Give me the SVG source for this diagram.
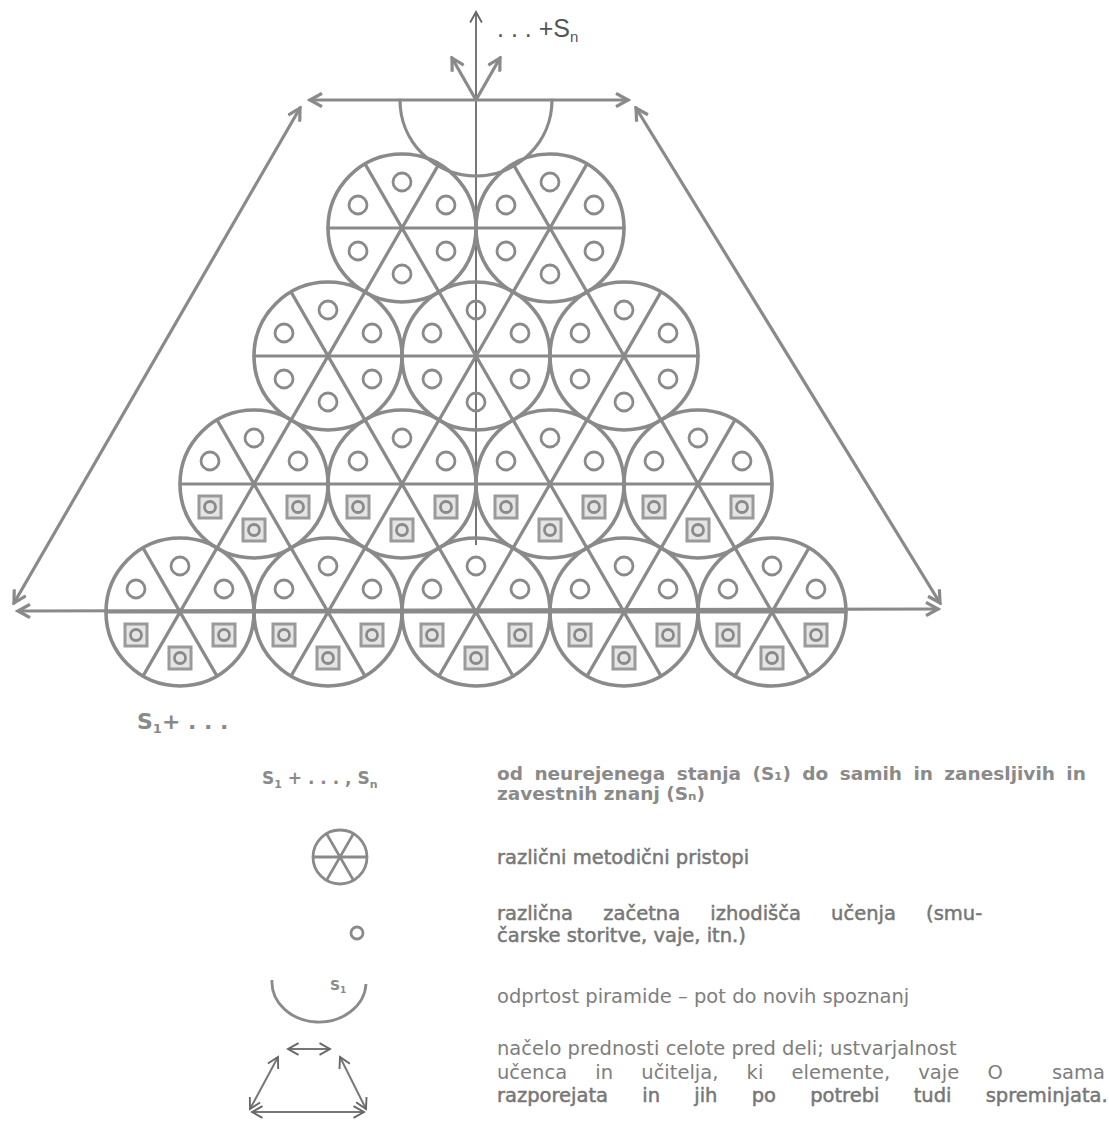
<svg xmlns="http://www.w3.org/2000/svg" width="1109" height="1124" viewBox="0 0 1109 1124">
<style>
  .ln{stroke:#8a8a8a;stroke-width:3.2;fill:none;stroke-linecap:round}
  .thin{stroke:#777;stroke-width:2;fill:none}
  .big{stroke:#8a8a8a;stroke-width:3.6;fill:none}
  .sm{stroke:#8a8a8a;stroke-width:2.8;fill:none}
  .sq{stroke:#9a9a9a;stroke-width:3;fill:#e4e4e4}
  .t{font-family:"DejaVu Sans","Liberation Sans",sans-serif;font-size:19.5px;fill:#7e7e7e}
  .td{font-family:"DejaVu Sans","Liberation Sans",sans-serif;font-size:19.5px;fill:#777;stroke:#777;stroke-width:0.5}
  .tb{font-family:"DejaVu Sans","Liberation Sans",sans-serif;font-size:18.5px;fill:#8a8a8a;font-weight:bold}
</style>
<defs>
  <marker id="ah" viewBox="0 0 12 12" refX="10" refY="6" markerWidth="5" markerHeight="5" orient="auto-start-reverse" markerUnits="strokeWidth">
    <path d="M1,1 L10,6 L1,11" fill="none" stroke="#8a8a8a" stroke-width="2.4"/>
  </marker>
  <marker id="ahs" viewBox="0 0 12 12" refX="10" refY="6" markerWidth="7" markerHeight="7" orient="auto-start-reverse" markerUnits="strokeWidth">
    <path d="M1,1 L10,6 L1,11" fill="none" stroke="#666" stroke-width="1.6"/>
  </marker>
  <g id="frame">
    <circle r="74" class="big"/>
    <line class="ln" x1="-74" y1="0" x2="74" y2="0"/>
    <line class="ln" x1="-37" y1="-64.1" x2="37" y2="64.1"/>
    <line class="ln" x1="37" y1="-64.1" x2="-37" y2="64.1"/>
    <circle class="sm" cx="0" cy="-46" r="9"/>
    <circle class="sm" cx="-44" cy="-23" r="9"/>
    <circle class="sm" cx="44" cy="-23" r="9"/>
  </g>
  <g id="cellA">
    <use href="#frame"/>
    <circle class="sm" cx="-44" cy="23" r="9"/>
    <circle class="sm" cx="44" cy="23" r="9"/>
    <circle class="sm" cx="0" cy="46" r="9"/>
  </g>
  <g id="cellB">
    <use href="#frame"/>
    <rect class="sq" x="-55" y="12" width="22" height="22"/>
    <circle class="sm" cx="-44" cy="23" r="5.5"/>
    <rect class="sq" x="33" y="12" width="22" height="22"/>
    <circle class="sm" cx="44" cy="23" r="5.5"/>
    <rect class="sq" x="-11" y="35" width="22" height="22"/>
    <circle class="sm" cx="0" cy="46" r="5.5"/>
  </g>
</defs>
<rect width="1109" height="1124" fill="#fff"/>

<g id="connectors">
  <line class="thin" x1="476" y1="545" x2="476" y2="12" marker-end="url(#ahs)"/>
  <line class="ln" x1="310" y1="100" x2="628" y2="100" marker-start="url(#ah)" marker-end="url(#ah)"/>
  <line class="ln" x1="300" y1="108" x2="14" y2="603" marker-start="url(#ah)" marker-end="url(#ah)"/>
  <line class="ln" x1="636" y1="108" x2="940" y2="603" marker-start="url(#ah)" marker-end="url(#ah)"/>
  <line class="ln" x1="18" y1="611" x2="938" y2="609" marker-start="url(#ah)" marker-end="url(#ah)"/>
  <line class="ln" x1="476" y1="100" x2="452" y2="58" marker-end="url(#ah)"/>
  <line class="ln" x1="476" y1="100" x2="500" y2="58" marker-end="url(#ah)"/>
</g>

<g id="opening">
  <path class="ln" d="M400,100 A76,76 0 0 0 552,100"/>
  <text x="497" y="37" font-family="'Liberation Sans','DejaVu Sans',sans-serif" font-size="25" fill="#555">. . . +S<tspan font-size="15" dy="5">n</tspan></text>
</g>

<g id="row1">
  <use href="#cellA" x="402" y="228"/>
  <use href="#cellA" x="550" y="228"/>
</g>
<g id="row2">
  <use href="#cellA" x="328" y="356"/>
  <use href="#cellA" x="476" y="356"/>
  <use href="#cellA" x="624" y="356"/>
</g>
<g id="row3">
  <use href="#cellB" x="254" y="484"/>
  <use href="#cellB" x="402" y="484"/>
  <use href="#cellB" x="550" y="484"/>
  <use href="#cellB" x="698" y="484"/>
</g>
<g id="row4">
  <use href="#cellB" x="180" y="612"/>
  <use href="#cellB" x="328" y="612"/>
  <use href="#cellB" x="476" y="612"/>
  <use href="#cellB" x="624" y="612"/>
  <use href="#cellB" x="772" y="612"/>
</g>

<g id="start-label">
  <text x="137" y="729" class="tb" style="font-size:22px">S<tspan style="font-size:13px" dy="4">1</tspan><tspan dy="-4">+ . . .</tspan></text>
</g>

<g id="legend-1">
  <text x="262" y="784" class="tb" style="font-size:17px">S<tspan style="font-size:11px" dy="4">1</tspan><tspan dy="-4"> + . . . , S</tspan><tspan style="font-size:11px" dy="4">n</tspan></text>
  <text x="497" y="780" class="tb" word-spacing="5">od neurejenega stanja (S₁) do samih in zanesljivih in</text>
  <text x="497" y="800" class="tb">zavestnih znanj (Sₙ)</text>
</g>

<g id="legend-2">
  <g transform="translate(340,857)">
    <circle r="27" class="sm"/>
    <line class="sm" x1="-27" y1="0" x2="27" y2="0"/>
    <line class="sm" x1="-13.5" y1="-23.4" x2="13.5" y2="23.4"/>
    <line class="sm" x1="13.5" y1="-23.4" x2="-13.5" y2="23.4"/>
  </g>
  <text x="497" y="864" class="td">različni metodični pristopi</text>
</g>

<g id="legend-3">
  <circle class="sm" cx="357" cy="933" r="6"/>
  <text x="497" y="920" class="td" word-spacing="24">različna začetna izhodišča učenja (smu-</text>
  <text x="497" y="942" class="td">čarske storitve, vaje, itn.)</text>
</g>

<g id="legend-4">
  <path class="sm" d="M272,980 A47,40 0 0 0 366,984"/>
  <text x="330" y="990" class="tb" style="font-size:14px">S<tspan style="font-size:9px" dy="3">1</tspan></text>
  <text x="497" y="1003" class="t">odprtost piramide – pot do novih spoznanj</text>
</g>

<g id="legend-5">
  <line class="thin" x1="288" y1="1049" x2="330" y2="1049" marker-start="url(#ahs)" marker-end="url(#ahs)"/>
  <line class="thin" x1="278" y1="1057" x2="250" y2="1109" marker-start="url(#ahs)" marker-end="url(#ahs)"/>
  <line class="thin" x1="340" y1="1057" x2="366" y2="1109" marker-start="url(#ahs)" marker-end="url(#ahs)"/>
  <line class="thin" x1="252" y1="1112" x2="364" y2="1112" marker-start="url(#ahs)" marker-end="url(#ahs)"/>
  <text x="497" y="1055" class="t">načelo prednosti celote pred deli; ustvarjalnost</text>
  <text x="497" y="1079" class="t" word-spacing="22">učenca in učitelja, ki elemente, vaje O</text>
  <text x="1105" y="1079" class="t" text-anchor="end">sama</text>
  <text x="497" y="1102" class="td" word-spacing="28">razporejata in jih po potrebi tudi spreminjata.</text>
</g>
</svg>
